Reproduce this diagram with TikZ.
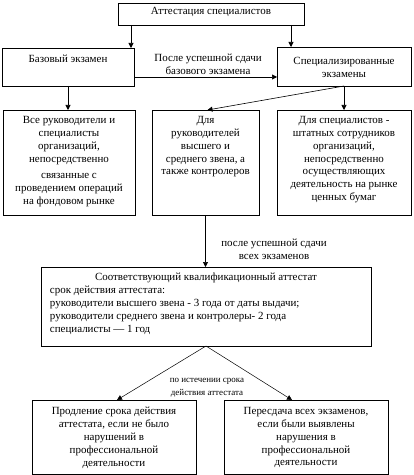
\documentclass[tikz,border=0pt]{standalone}
\usepackage{fontspec}
\setmainfont{Liberation Serif}
\usetikzlibrary{arrows.meta,calc}
% box text: width, height, top gap, lines
\newcommand{\boxcontent}[4]{\parbox[c][#2][t]{#1}{\vspace*{#3}\centering #4}}
\tikzset{
  box/.style={draw,line width=0.7bp,inner sep=0pt,outer sep=0pt},
  arr/.style={line width=0.6bp,-{Triangle[length=5bp,width=5bp]}},
  lbl/.style={align=center,inner sep=0pt}
}

\begin{document}
\begin{tikzpicture}[x=1bp,y=-1bp,font=\fontsize{11}{13}\selectfont]
  \useasboundingbox (0,0) rectangle (413,475);
  % top level
  \node[box] (top) at (211,14) {\boxcontent{186bp}{22bp}{4bp}{Аттестация специалистов}};
  \node[box] (base) at (68,67) {\boxcontent{132bp}{38bp}{7bp}{Базовый экзамен}};
  \node[box] (spec) at (344,66.5) {\boxcontent{134bp}{39bp}{10bp}{Специализированные\\экзамены}};
  % groups
  \node[box] (grpall) at (69,162.5) {\boxcontent{132bp}{105bp}{6bp}{Все руководители и\\специалисты\\организаций,\\непосредственно\\[4bp]связанные с\\проведением операций\\на фондовом рынке}};
  \node[box] (grpmgr) at (205.5,162.5) {\boxcontent{107bp}{105bp}{6bp}{Для\\руководителей\\высшего и\\среднего звена, а\\также контролеров}};
  \node[box] (grpstaff) at (344,162.5) {\boxcontent{134bp}{105bp}{6bp}{Для специалистов -\\штатных сотрудников\\организаций,\\непосредственно\\осуществляющих\\деятельность на рынке\\ценных бумаг}};
  % certificate
  \node[box] (cert) at (206,306.5) {\parbox[c][79bp][t]{330bp}{\vspace*{6bp}\centering Соответствующий квалификационный аттестат\par
    \raggedright\leftskip=9bp срок действия аттестата:\\
    руководители высшего звена - 3 года от даты выдачи;\\
    руководители среднего звена и контролеры- 2 года\\
    специалисты — 1 год}};
  % outcomes
  \node[box] (extend) at (114,437) {\boxcontent{164bp}{74bp}{7bp}{Продление срока действия\\аттестата, если не было\\нарушений в\\профессиональной\\деятельности}};
  \node[box] (retake) at (306,437) {\boxcontent{164bp}{74bp}{7bp}{Пересдача всех экзаменов,\\если были выявлены\\нарушения в\\профессиональной\\деятельности}};
  % labels
  \node[lbl] (lblbase) at (208,64) {После успешной сдачи\\базового экзамена};
  \node[lbl] (lblall) at (274,249) {после успешной сдачи\\всех экзаменов};
  \node[lbl,font=\fontsize{9}{13}\selectfont] (lblterm) at (207,388) {по истечении срока\\действия аттестата};
  % connectors
  \coordinate (topl) at ([xshift=13bp]top.south west);
  \coordinate (topr) at ([xshift=-13bp]top.south east);
  \draw[arr] (topl) -- (topl |- base.north);
  \draw[arr] (topr) -- (topr |- spec.north);
  \draw[arr] (base.east |- 0,77) -- (spec.west |- 0,77);
  \draw[arr] (base.south) -- (base.south |- grpall.north);
  \draw[arr] (spec.south) -- ([xshift=2bp]grpmgr.north);
  \draw[arr] (spec.south) -- (grpstaff.north);
  \draw[arr] (grpmgr.south) -- (grpmgr.south |- cert.north);
  \draw[arr,line width=0.5bp] (cert.south) -- ([xshift=3bp]extend.north);
  \draw[arr,line width=0.5bp] (cert.south) -- ([xshift=-14bp]retake.north);
\end{tikzpicture}
\end{document}
